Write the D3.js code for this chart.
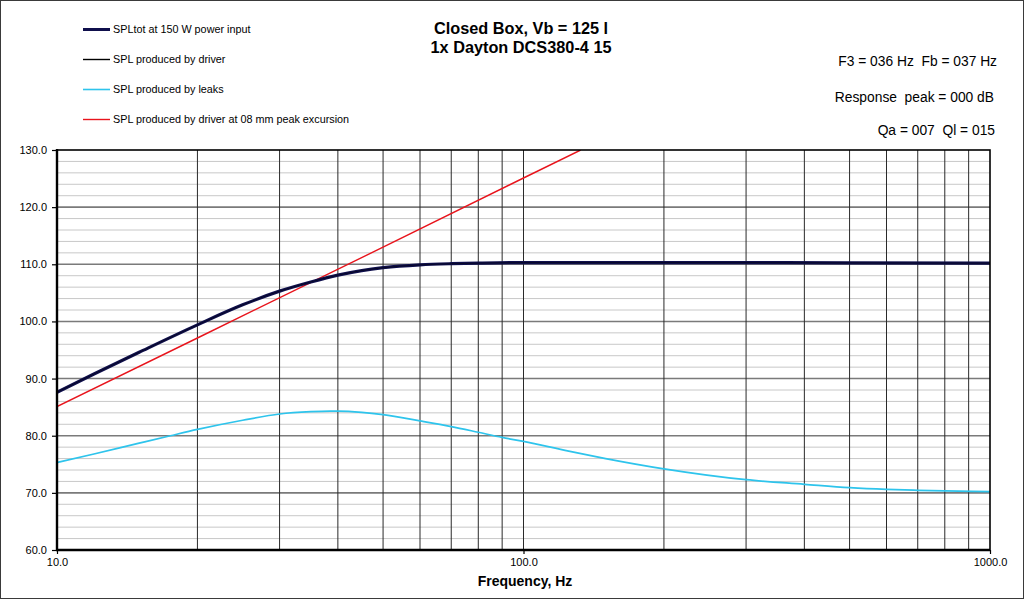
<!DOCTYPE html>
<html><head><meta charset="utf-8">
<script src="https://cdn.jsdelivr.net/npm/d3@7"></script>
<style>html,body{margin:0;padding:0;background:#fff;} text{font-family:"Liberation Sans",Arial,sans-serif;}</style>
</head><body>
<svg id="c" width="1024" height="599"></svg>
<script>
// ---- data ----
const titleLines = ["Closed Box, Vb = 125 l", "1x Dayton DCS380-4 15"];
const infoLines = ["F3 = 036 Hz  Fb = 037 Hz", "Response  peak = 000 dB", "Qa = 007  Ql = 015"];
const legendLabels = ["SPLtot at 150 W power input", "SPL produced by driver", "SPL produced by leaks", "SPL produced by driver at 08 mm peak excursion"];
const xTickValues = [10, 100, 1000];
const xTickLabels = ["10.0", "100.0", "1000.0"];
const yTickValues = [60, 70, 80, 90, 100, 110, 120, 130];
const yTickLabels = ["60.0", "70.0", "80.0", "90.0", "100.0", "110.0", "120.0", "130.0"];

const totFreq = [10, 12, 15, 20, 25, 30, 35, 40, 45, 50, 60, 70, 80, 100, 150, 200, 300, 500, 1000];
const totSPL  = [87.6, 90.8, 94.6, 99.4, 102.9, 105.3, 106.9, 108.1, 108.9, 109.4, 109.9, 110.1, 110.2, 110.3, 110.3, 110.3, 110.3, 110.25, 110.2];
const drvSPL  = [87.6, 90.8, 94.6, 99.4, 102.9, 105.3, 106.9, 108.1, 108.9, 109.4, 109.9, 110.1, 110.2, 110.3, 110.3, 110.3, 110.3, 110.25, 110.2];

const leakFreq = [10, 12, 15, 17.5, 20, 25, 30, 35, 38.5, 40, 45, 50, 60, 70, 80, 90, 100, 125, 150, 200, 300, 400, 500, 600, 700, 800, 1000];
const leakSPL  = [75.3, 76.8, 78.7, 80.0, 81.1, 82.7, 83.8, 84.2, 84.3, 84.3, 84.1, 83.7, 82.6, 81.6, 80.6, 79.7, 79.0, 77.3, 76.0, 74.2, 72.3, 71.5, 70.9, 70.6, 70.45, 70.35, 70.2];

const xmaxFreq = [10, 20, 50, 100, 132.6];
const xmaxSPL  = [85.1, 97.1, 113.0, 125.1, 130.0];

const colTot = "#0f0f4c", colDrv = "#000000", colLeak = "#2ec4ec", colXmax = "#e8141c";

// ---- layout ----
const svg = d3.select("#c");
const L = 57, R = 990, T = 150, B = 550;
const x = d3.scaleLog().domain([10, 1000]).range([L, R]);
const y = d3.scaleLinear().domain([60, 130]).range([B, T]);

svg.append("rect").attr("x",0).attr("y",0).attr("width",1024).attr("height",599).attr("fill","#fff");
svg.append("rect").attr("x",0.5).attr("y",0.5).attr("width",1023).attr("height",598).attr("fill","none").attr("stroke","#3a3a3a").attr("stroke-width",1);

const grid = svg.append("g");
d3.range(62, 130, 2).filter(v => v % 10 !== 0).forEach(v => {
  grid.append("line").attr("x1",L).attr("x2",R).attr("y1",y(v)).attr("y2",y(v)).attr("stroke","#c8c8c8").attr("stroke-width",1);
});
yTickValues.slice(1, -1).forEach(v => {
  grid.append("line").attr("x1",L).attr("x2",R).attr("y1",y(v)).attr("y2",y(v)).attr("stroke","#7a7a7a").attr("stroke-width",1.6);
});
const vlines = [];
[10, 100].forEach(d => { for (let k = 2; k <= 9; k++) vlines.push(d * k); });
vlines.push(100);
vlines.forEach(f => {
  grid.append("line").attr("x1",x(f)).attr("x2",x(f)).attr("y1",T).attr("y2",B).attr("stroke","#2a2a2a").attr("stroke-width",1);
});

svg.append("clipPath").attr("id","pc").append("rect").attr("x",L).attr("y",T).attr("width",R-L).attr("height",B-T);

const line = (fs, vs, curve) => d3.line().x((d,i) => x(fs[i])).y(d => y(d)).curve(curve)(vs);
const plot = svg.append("g").attr("clip-path","url(#pc)");
plot.append("path").attr("d", line(leakFreq, leakSPL, d3.curveMonotoneX)).attr("fill","none").attr("stroke",colLeak).attr("stroke-width",1.7);
plot.append("path").attr("d", line(xmaxFreq, xmaxSPL, d3.curveLinear)).attr("fill","none").attr("stroke",colXmax).attr("stroke-width",1.4);
plot.append("path").attr("d", line(totFreq, totSPL, d3.curveMonotoneX)).attr("fill","none").attr("stroke",colTot).attr("stroke-width",3.2);
plot.append("path").attr("d", line(totFreq, drvSPL, d3.curveMonotoneX)).attr("fill","none").attr("stroke",colDrv).attr("stroke-width",1).attr("opacity",0.5);

svg.append("rect").attr("x",L).attr("y",T).attr("width",R-L).attr("height",B-T).attr("fill","none").attr("stroke","#000").attr("stroke-width",1.6);
svg.append("line").attr("x1",L).attr("x2",L).attr("y1",T-1).attr("y2",B+1).attr("stroke","#000").attr("stroke-width",2.4);
svg.append("line").attr("x1",L-1).attr("x2",R).attr("y1",B).attr("y2",B).attr("stroke","#000").attr("stroke-width",2.4);

const yAxis = d3.axisLeft(y).tickValues(yTickValues).tickFormat((d,i) => yTickLabels[i]).tickSize(5).tickPadding(5);
const yg = svg.append("g").attr("transform",`translate(${L},0)`).call(yAxis);
yg.select(".domain").remove();
yg.selectAll("line").attr("stroke","#000").attr("stroke-width",1.2);
yg.selectAll("text").attr("font-size","11px").attr("fill","#000").attr("font-family","Liberation Sans, Arial, sans-serif");

const xAxis = d3.axisBottom(x).tickValues(xTickValues).tickFormat((d,i) => xTickLabels[i]).tickSize(4).tickPadding(4);
const xg = svg.append("g").attr("transform",`translate(0,${B})`).call(xAxis);
xg.select(".domain").remove();
xg.selectAll("line").attr("stroke","#000").attr("stroke-width",1.2);
xg.selectAll("text").attr("font-size","11px").attr("fill","#000").attr("font-family","Liberation Sans, Arial, sans-serif");

svg.append("text").attr("x",525).attr("y",586).attr("text-anchor","middle").attr("font-size","14px").attr("font-weight","bold").text("Frequency, Hz");

titleLines.forEach((t,i) => {
  svg.append("text").attr("x",521).attr("y",34 + i*19.3).attr("text-anchor","middle").attr("font-size","16.3px").attr("font-weight","bold").text(t);
});

const infoY = [66, 102, 135];
const infoX = [997, 994, 995];
infoLines.forEach((t,i) => {
  svg.append("text").attr("x",infoX[i]).attr("y",infoY[i]).attr("text-anchor","end").attr("font-size","13.8px").style("white-space","pre").text(t);
});

const legCols = [colTot, colDrv, colLeak, colXmax];
const legW = [3, 1.4, 1.6, 1.4];
legendLabels.forEach((t,i) => {
  const yy = 29.5 + i*30;
  svg.append("line").attr("x1",83).attr("x2",110).attr("y1",yy).attr("y2",yy).attr("stroke",legCols[i]).attr("stroke-width",legW[i]);
  svg.append("text").attr("x",113).attr("y",yy+3.7).attr("font-size","10.8px").text(t);
});
</script>
</body></html>
